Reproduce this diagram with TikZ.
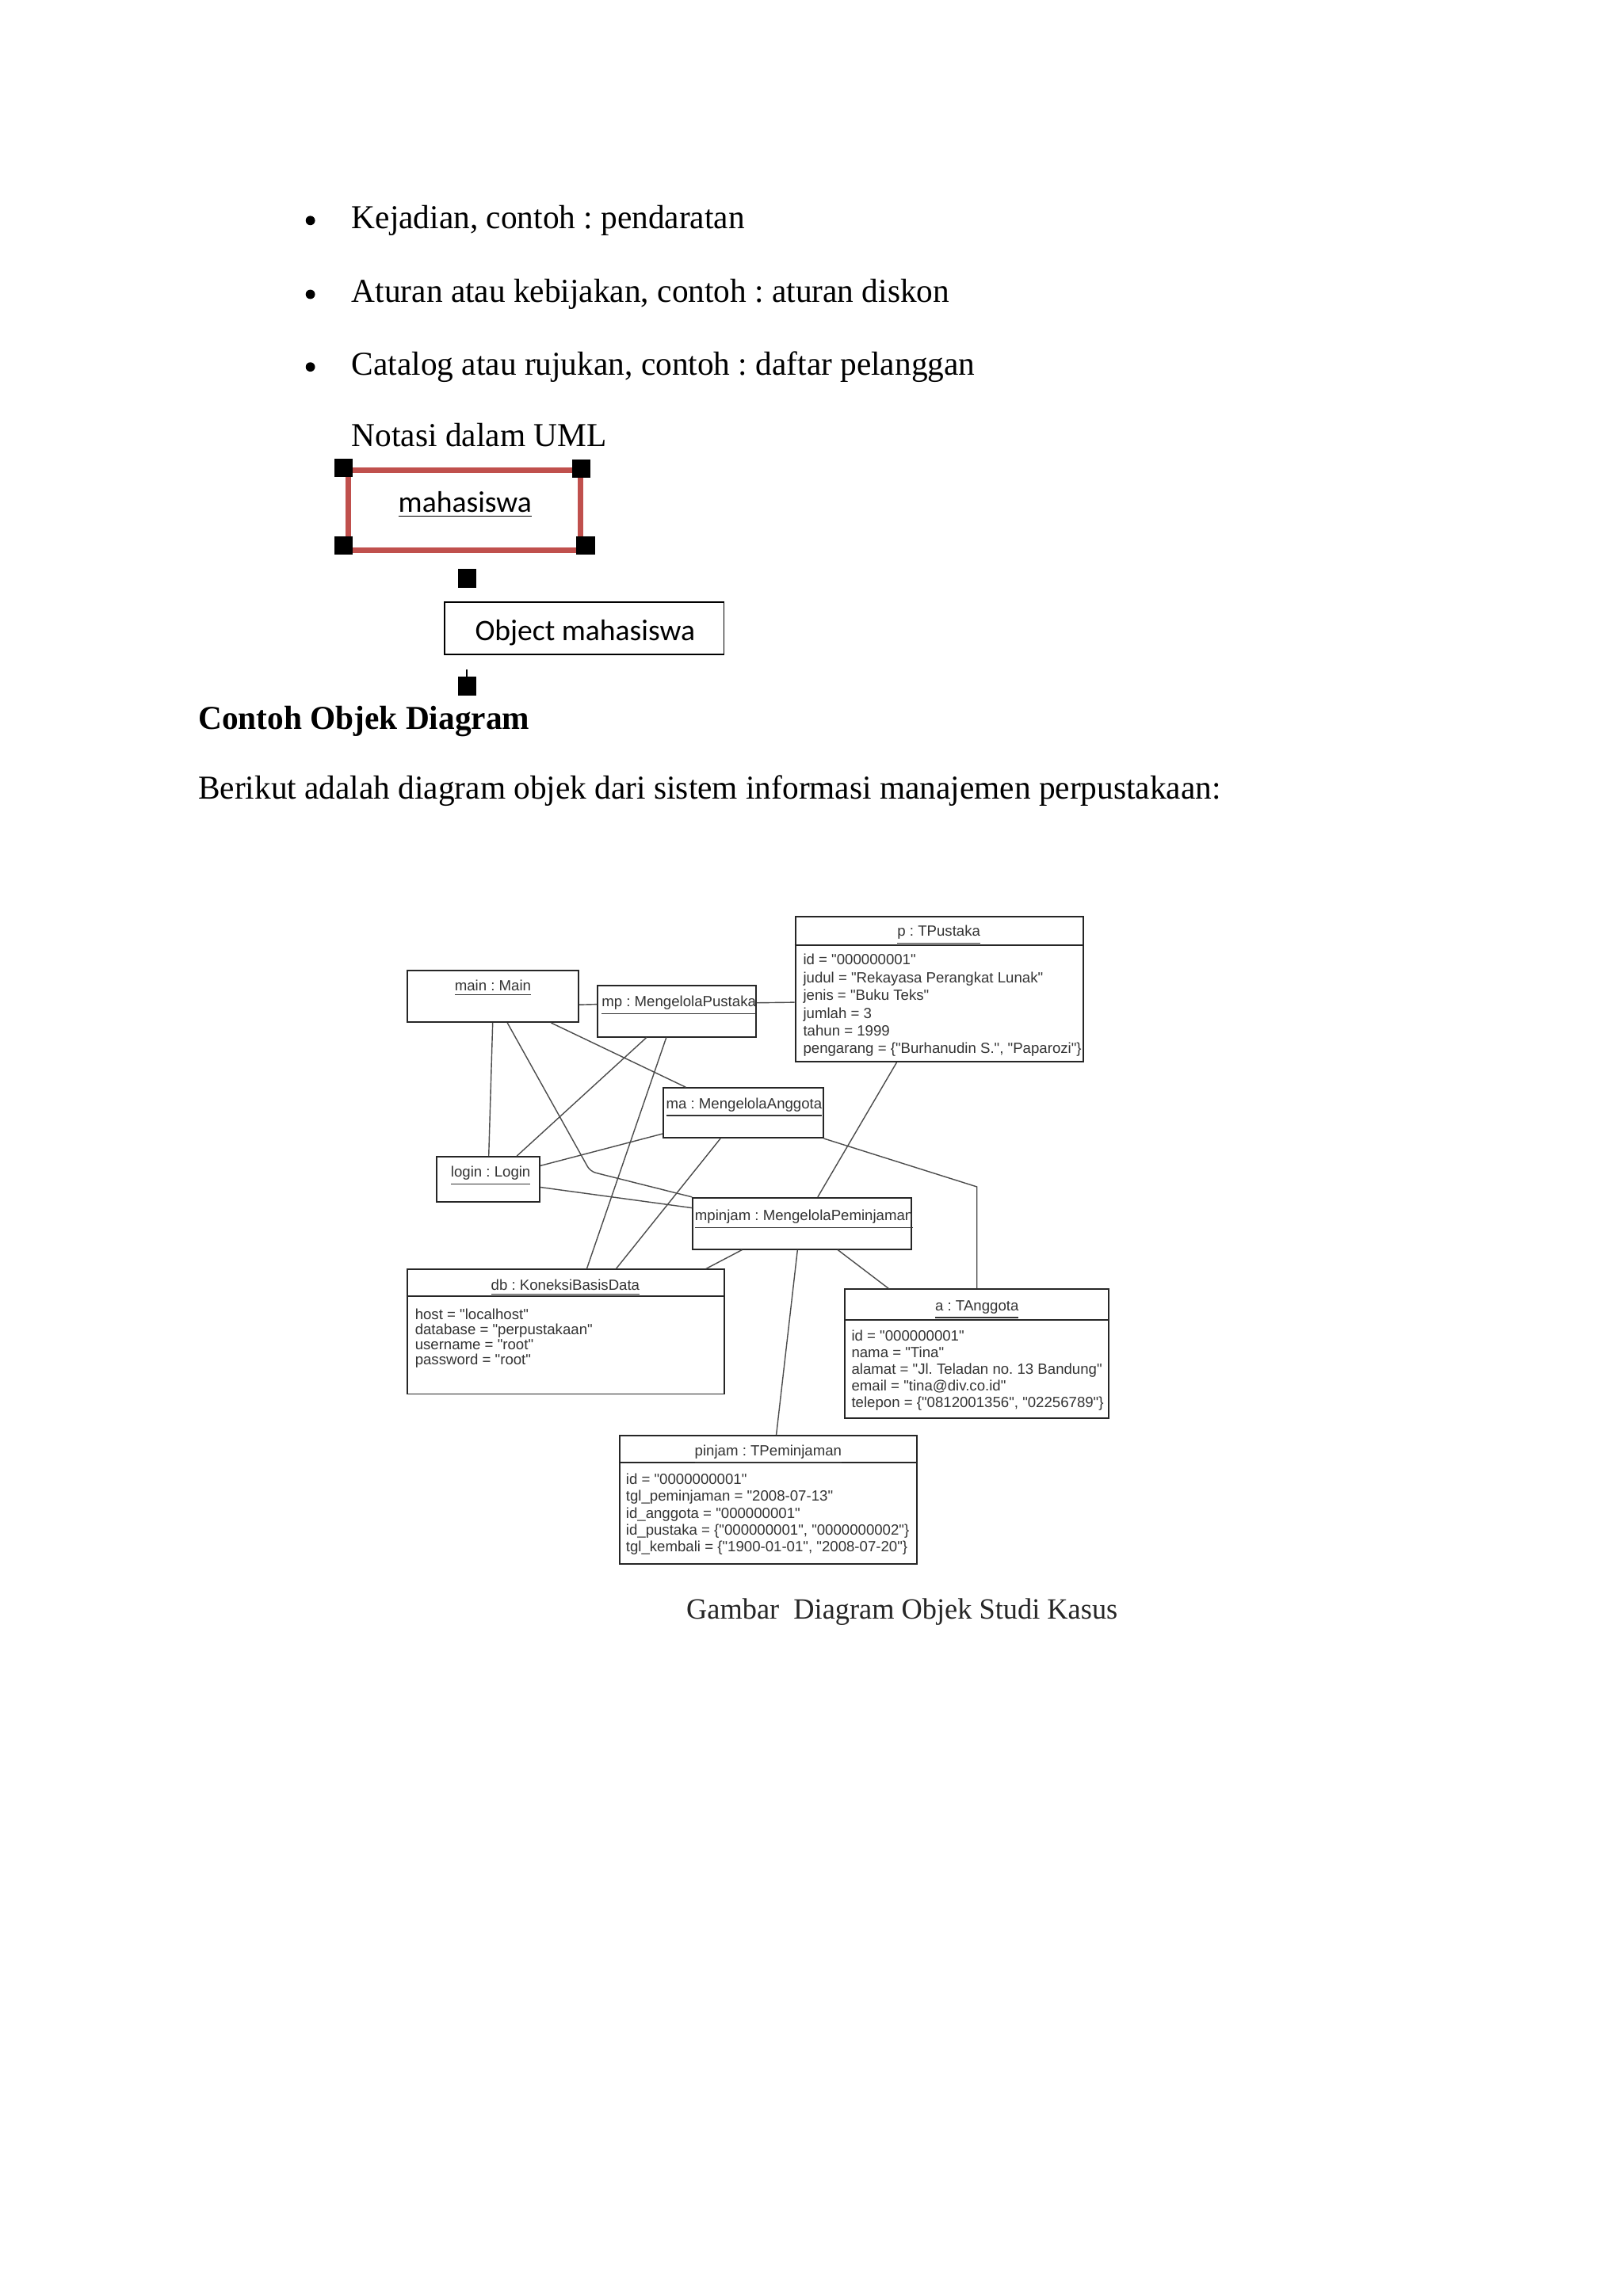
\documentclass[tikz,border=0pt]{standalone}
\usepackage{fontspec}
\setmainfont{Liberation Serif}[FakeStretch=0.98]
\newfontfamily\diagfont{Liberation Sans}
\newfontfamily\calfont{Carlito}
\usetikzlibrary{fit,calc}
\definecolor{notered}{HTML}{C0504D}
\frenchspacing
\begin{document}
\frenchspacing
\begin{tikzpicture}[x=0.01848cm,y=-0.01848cm,
  body/.style={font=\frenchspacing\fontsize{12}{14}\selectfont, anchor=base west, inner sep=0pt},
  obj/.style={draw=black!85, line width=0.55pt, inner sep=0pt, fill=white},
  objtitle/.style={font=\diagfont\fontsize{5.3}{6}\selectfont, text=black!80, anchor=base, inner sep=0pt},
  attr/.style={font=\diagfont\fontsize{5.3}{6}\selectfont, text=black!80, anchor=base west, inner sep=0pt},
  link/.style={draw=black!70, line width=0.4pt},
  handle/.style={fill=black, minimum size=0.233cm, inner sep=0pt},
  bulletdot/.style={circle, fill=black, minimum size=0.118cm, inner sep=0pt},
  notetext/.style={font=\calfont\fontsize{10.7}{12}\selectfont, inner sep=0pt}
]
\fill[white] (0,0) rectangle (1108,1568);
\useasboundingbox (0,0) rectangle (1108,1568);

% ---------- bullet list ----------
\node[bulletdot] (b1) at (211.9,150.6) {};
\node[bulletdot] (b2) at (211.9,201) {};
\node[bulletdot] (b3) at (211.9,250.6) {};
\node[body] (t1) at (239.8,156) {Kejadian, contoh : pendaratan};
\node[body] (t2) at (239.8,206.5) {Aturan atau kebijakan, contoh : aturan diskon};
\node[body] (t3) at (239.8,256.1) {Catalog atau rujukan, contoh : daftar pelanggan};
\node[body] (t4) at (239.8,304.8) {Notasi dalam UML};

% ---------- UML notation ----------
\node[draw=notered, line width=1.9pt, inner sep=0pt, fit={(237.8,321)(396.4,375.7)}] (mhs) {};
\node[notetext, anchor=base] (mhsT) at (317.5,349.6) {\underline{mahasiswa}};
\node[handle] (h1) at (234.7,319.6) {};
\node[handle] (h2) at (397,320.2) {};
\node[handle] (h3) at (234.7,372.5) {};
\node[handle] (h4) at (399.9,372.5) {};
\node[handle] (h5) at (318.9,395) {};
\node[draw, line width=0.5pt, inner sep=0pt, fit={(303.6,411.3)(494.3,446.8)}] (objbox) {};
\node[notetext, anchor=base west] (objT) at (324,437.4) {Object mahasiswa};
\node[handle] (h6) at (318.9,468.6) {};
\coordinate (tick) at (318.9,457.3);
\draw[line width=0.6pt] (tick) -- (h6.north);

% ---------- headings ----------
\node[body, font=\bfseries\fontsize{12}{14}\selectfont] (head) at (135,497.8) {Contoh Objek Diagram};
\node[body] (intro) at (135,545.6) {Berikut adalah diagram objek dari sistem informasi manajemen perpustakaan:};

% ---------- object diagram boxes ----------
\node[obj, fit={(278,663)(395,698)}] (main) {};
\node[obj, fit={(408,673)(516,708)}] (mp) {};
\node[obj, fit={(543,626)(739.5,725)}] (p) {};
\node[obj, fit={(453,743)(562,777)}] (ma) {};
\node[obj, fit={(298,790)(368.5,821)}] (login) {};
\node[obj, fit={(473,818)(622,853)}] (mpinjam) {};
\node[obj, fit={(278,867)(494.5,952)}] (db) {};
\node[obj, fit={(577,880.5)(757,968.5)}] (a) {};
\node[obj, fit={(423,980.5)(626,1068)}] (pinjam) {};

% header separators
\draw[draw=black!85, line width=0.55pt] ($(p.north west)!0.199!(p.south west)$) -- ($(p.north east)!0.199!(p.south east)$);
\draw[draw=black!85, line width=0.55pt] ($(db.north west)!0.215!(db.south west)$) -- ($(db.north east)!0.215!(db.south east)$);
\draw[draw=black!85, line width=0.55pt] ($(a.north west)!0.239!(a.south west)$) -- ($(a.north east)!0.239!(a.south east)$);
\draw[draw=black!85, line width=0.55pt] ($(pinjam.north west)!0.211!(pinjam.south west)$) -- ($(pinjam.north east)!0.211!(pinjam.south east)$);

% titles
\node[objtitle] (mainT) at (336.5,676.5) {\underline{main : Main}};
\node[objtitle] (mpT) at (463.5,687.5) {\underline{mp : MengelolaPustaka}};
\node[objtitle] (pT) at (641,639.5) {\underline{p : TPustaka}};
\node[objtitle] (maT) at (508,757) {\underline{ma : MengelolaAnggota}};
\node[objtitle] (loginT) at (335,804) {\underline{login : Login}};
\node[objtitle] (mpinjamT) at (549,833.5) {\underline{mpinjam : MengelolaPeminjaman}};
\node[objtitle] (dbT) at (386,881) {\underline{db : KoneksiBasisData}};
\node[objtitle] (aT) at (667,895) {\underline{a : TAnggota}};
\node[objtitle] (pinjamT) at (524.5,994) {\underline{pinjam : TPeminjaman}};

% attributes
\node[attr] (p1) at (548,659) {id = "000000001"};
\node[attr] (p2) at (548,671.1) {judul = "Rekayasa Perangkat Lunak"};
\node[attr] (p3) at (548,683.2) {jenis = "Buku Teks"};
\node[attr] (p4) at (548,695.3) {jumlah = 3};
\node[attr] (p5) at (548,707.4) {tahun = 1999};
\node[attr] (p6) at (548,719.5) {pengarang = \{"Burhanudin S.", "Paparozi"\}};

\node[attr] (db1) at (283,901) {host = "localhost"};
\node[attr] (db2) at (283,911.3) {database = "perpustakaan"};
\node[attr] (db3) at (283,921.6) {username = "root"};
\node[attr] (db4) at (283,931.9) {password = "root"};

\node[attr] (a1) at (581,916) {id = "000000001"};
\node[attr] (a2) at (581,927.3) {nama = "Tina"};
\node[attr] (a3) at (581,938.6) {alamat = "Jl. Teladan no. 13 Bandung"};
\node[attr] (a4) at (581,949.9) {email = "tina@div.co.id"};
\node[attr] (a5) at (581,961.2) {telepon = \{"0812001356", "02256789"\}};

\node[attr] (q1) at (427,1013.5) {id = "0000000001"};
\node[attr] (q2) at (427,1025.1) {tgl\_peminjaman = "2008-07-13"};
\node[attr] (q3) at (427,1036.7) {id\_anggota = "000000001"};
\node[attr] (q4) at (427,1048.3) {id\_pustaka = \{"000000001", "0000000002"\}};
\node[attr] (q5) at (427,1059.9) {tgl\_kembali = \{"1900-01-01", "2008-07-20"\}};

% ---------- links ----------
\draw[link] ($(main.north east)!0.657!(main.south east)$) -- ($(mp.north west)!0.371!(mp.south west)$);
\draw[link] ($(mp.north east)!0.343!(mp.south east)$) -- ($(p.north west)!0.59!(p.south west)$);
\draw[link] ($(main.south west)!0.499!(main.south east)$) -- ($(login.north west)!0.506!(login.north east)$);
\coordinate (k1) at (403,800);
\draw[link, rounded corners=2pt] ($(main.south west)!0.584!(main.south east)$) -- (k1) -- (mpinjam.north west);
\draw[link] ($(main.south west)!0.837!(main.south east)$) -- ($(ma.north west)!0.143!(ma.north east)$);
\draw[link] ($(mp.south west)!0.311!(mp.south east)$) -- ($(login.north west)!0.774!(login.north east)$);
\draw[link] ($(mp.south west)!0.435!(mp.south east)$) -- ($(db.north west)!0.566!(db.north east)$);
\draw[link] ($(login.north east)!0.206!(login.south east)$) -- ($(ma.north west)!0.906!(ma.south west)$);
\draw[link] ($(login.north east)!0.665!(login.south east)$) -- ($(mpinjam.north west)!0.206!(mpinjam.south west)$);
\draw[link] ($(ma.south west)!0.358!(ma.south east)$) -- ($(db.north west)!0.658!(db.north east)$);
\coordinate (k2) at (667,810.5);
\draw[link] (ma.south east) -- (k2) -- (a.north);
\draw[link] ($(p.south west)!0.353!(p.south east)$) -- ($(mpinjam.north west)!0.572!(mpinjam.north east)$);
\draw[link] ($(mpinjam.south west)!0.228!(mpinjam.south east)$) -- ($(db.north west)!0.94!(db.north east)$);
\draw[link] ($(mpinjam.south west)!0.48!(mpinjam.south east)$) -- ($(pinjam.north west)!0.527!(pinjam.north east)$);
\draw[link] ($(mpinjam.south west)!0.663!(mpinjam.south east)$) -- ($(a.north west)!0.167!(a.north east)$);

% ---------- caption ----------
\node[font=\fontsize{10.55}{12}\selectfont, anchor=base west, inner sep=0pt, text=black!85] (cap) at (468.3,1105.7) {Gambar\ \ Diagram Objek Studi Kasus};
\end{tikzpicture}
\end{document}
